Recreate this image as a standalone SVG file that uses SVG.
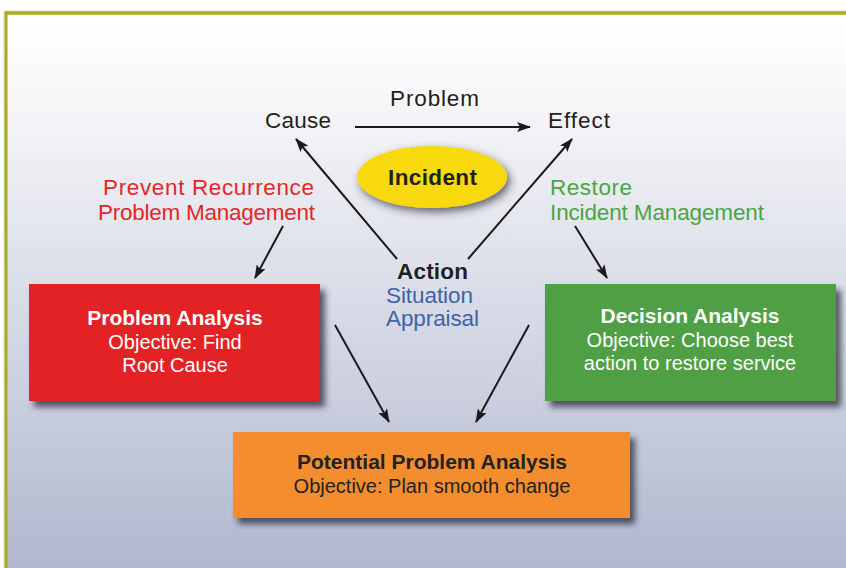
<svg xmlns="http://www.w3.org/2000/svg" width="846" height="568" viewBox="0 0 846 568">
  <defs>
    <linearGradient id="bg" x1="0" y1="15" x2="0" y2="568" gradientUnits="userSpaceOnUse">
      <stop offset="0" stop-color="#FFFFFF"/>
      <stop offset="0.15" stop-color="#F7F7F9"/>
      <stop offset="0.5" stop-color="#DADDE8"/>
      <stop offset="1" stop-color="#B1B7CF"/>
    </linearGradient>
    <filter id="shadow" x="-10%" y="-10%" width="130%" height="140%">
      <feDropShadow dx="5" dy="6" stdDeviation="3" flood-color="#2a2a35" flood-opacity="0.75"/>
    </filter>
    <filter id="glow" x="-20%" y="-30%" width="150%" height="170%">
      <feDropShadow dx="3" dy="4" stdDeviation="4" flood-color="#2a2a35" flood-opacity="0.7"/>
    </filter>
    <marker id="arrow" viewBox="0 0 14 10" refX="13" refY="5" markerWidth="14" markerHeight="10" markerUnits="userSpaceOnUse" orient="auto">
      <path d="M0,0 L14,5 L0,10 L3,5 Z" fill="#1a1a1a"/>
    </marker>
  </defs>
  <style>
    text { font-family: "Liberation Sans", Arial, Helvetica, sans-serif; }
    .lbl { font-size: 22.5px; fill: #1f1f1f; }
    .bold { font-weight: bold; }
    .red { fill: #E4262A; }
    .green { fill: #4AA543; }
    .blue { fill: #3E63A6; }
    .title { font-size: 21px; font-weight: bold; }
    .sub { font-size: 20px; }
    .white { fill: #FFFFFF; }
    .dark { fill: #222222; }
    .conn { stroke: #1a1a1a; stroke-width: 2; fill: none; marker-end: url(#arrow); }
  </style>

  <!-- page background and frame -->
  <rect x="0" y="0" width="846" height="568" fill="#FFFFFF"/>
  <rect x="6" y="13" width="840" height="555" fill="url(#bg)"/>
  <line x1="4" y1="11" x2="846" y2="11" stroke="#D8D8C8" stroke-width="1"/>
  <line x1="4" y1="11" x2="4" y2="568" stroke="#D8D8C8" stroke-width="1"/>
  <line x1="5" y1="13" x2="846" y2="13" stroke="#A8AC1C" stroke-width="3.5"/>
  <line x1="6" y1="12" x2="6" y2="568" stroke="#A8AC1C" stroke-width="3"/>

  <!-- connectors -->
  <g id="connectors">
    <line class="conn" x1="355" y1="127" x2="530" y2="127"/>
    <line class="conn" x1="397" y1="259" x2="296" y2="139"/>
    <line class="conn" x1="468" y1="259" x2="572" y2="139"/>
    <line class="conn" x1="283" y1="226" x2="255" y2="278"/>
    <line class="conn" x1="575" y1="226" x2="607" y2="278"/>
    <line class="conn" x1="335" y1="325" x2="389" y2="422"/>
    <line class="conn" x1="529" y1="325" x2="476" y2="422"/>
  </g>

  <!-- top labels -->
  <g id="cause"><text class="lbl" x="265" y="128" textLength="66">Cause</text></g>
  <g id="effect"><text class="lbl" x="548" y="128" textLength="62">Effect</text></g>
  <g id="problem"><text class="lbl" x="390" y="106" textLength="89">Problem</text></g>

  <!-- central incident -->
  <g id="incident">
    <ellipse cx="432" cy="177" rx="75" ry="31" fill="#F8D90F" filter="url(#glow)"/>
    <text class="lbl bold" x="388" y="185" textLength="89">Incident</text>
  </g>

  <!-- side labels -->
  <g id="prevent">
    <text class="lbl red" x="103" y="195" textLength="211">Prevent Recurrence</text>
    <text class="lbl red" x="98" y="220" textLength="217">Problem Management</text>
  </g>
  <g id="restore">
    <text class="lbl green" x="550" y="195" textLength="82">Restore</text>
    <text class="lbl green" x="550" y="220" textLength="214">Incident Management</text>
  </g>

  <!-- action -->
  <g id="action">
    <text class="lbl bold" x="397" y="279" textLength="71">Action</text>
    <text class="lbl blue" x="386" y="303" textLength="87">Situation</text>
    <text class="lbl blue" x="386" y="326" textLength="93">Appraisal</text>
  </g>

  <!-- analysis boxes -->
  <g id="problem-analysis">
    <rect x="29" y="284" width="291" height="117" fill="#E32426" filter="url(#shadow)"/>
    <text class="title white" x="175" y="325" text-anchor="middle">Problem Analysis</text>
    <text class="sub white" x="175" y="349" text-anchor="middle">Objective: Find</text>
    <text class="sub white" x="175" y="372" text-anchor="middle">Root Cause</text>
  </g>
  <g id="decision-analysis">
    <rect x="545" y="284" width="291" height="117" fill="#4FA045" filter="url(#shadow)"/>
    <text class="title white" x="690" y="323" text-anchor="middle">Decision Analysis</text>
    <text class="sub white" x="690" y="347" text-anchor="middle">Objective: Choose best</text>
    <text class="sub white" x="690" y="370" text-anchor="middle">action to restore service</text>
  </g>
  <g id="potential-problem-analysis">
    <rect x="233" y="432" width="397" height="86" fill="#F48D2D" filter="url(#shadow)"/>
    <text class="title dark" x="432" y="469" text-anchor="middle">Potential Problem Analysis</text>
    <text class="sub dark" x="432" y="493" text-anchor="middle">Objective: Plan smooth change</text>
  </g>
</svg>
